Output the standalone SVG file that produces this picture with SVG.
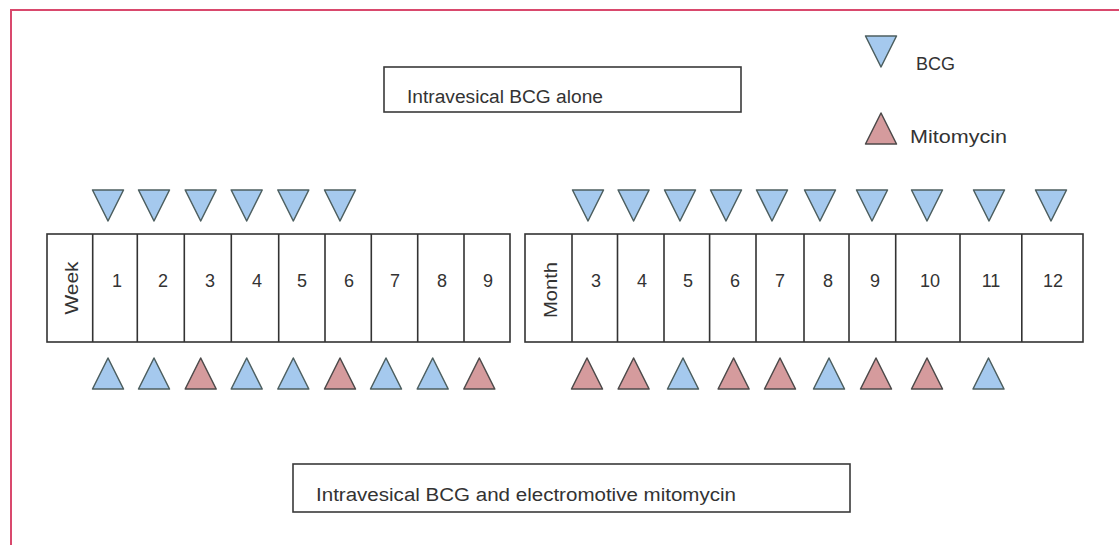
<svg xmlns="http://www.w3.org/2000/svg" xmlns:xlink="http://www.w3.org/1999/xlink" width="1119" height="545" viewBox="0 0 1119 545">
<style>
text{font-family:"Liberation Sans",Arial,sans-serif;fill:#333;font-size:18px}
.num{text-anchor:middle}
.box{fill:#fff;stroke:#3a3a3a;stroke-width:1.6}
.cell{fill:#fff;stroke:#333;stroke-width:1.6}
.bcg{fill:#a5c9ee;stroke:#4d5f60;stroke-width:1.5;stroke-linejoin:round}
.mito{fill:#d59b9d;stroke:#4d4a4a;stroke-width:1.5;stroke-linejoin:round}
.frame{fill:none;stroke:#d9496d;stroke-width:2}
</style>
<defs>
<path id="down" d="M-15.5,0 L15.5,0 L0,31 Z"/>
<path id="up" d="M0,0 L15.5,31 L-15.5,31 Z"/>
</defs>
<rect width="1119" height="545" fill="#fff"/>
<path class="frame" d="M11,545 V10 H1119"/>

<g id="box-bcg-alone">
<rect class="box" x="384" y="67" width="357" height="45"/>
<text x="407" y="103" textLength="196" lengthAdjust="spacingAndGlyphs">Intravesical BCG alone</text>
</g>
<g id="box-bcg-mito">
<rect class="box" x="293" y="464" width="557" height="48"/>
<text x="316" y="501" textLength="420" lengthAdjust="spacingAndGlyphs">Intravesical BCG and electromotive mitomycin</text>
</g>

<g id="legend">
<use href="#down" class="bcg" x="881" y="36"/>
<text x="916" y="70" textLength="39" lengthAdjust="spacingAndGlyphs">BCG</text>
<use href="#up" class="mito" x="881" y="113"/>
<text x="910" y="143" textLength="97" lengthAdjust="spacingAndGlyphs">Mitomycin</text>
</g>

<g id="week-table">
<rect class="cell" x="47" y="234" width="463" height="108"/>
<path class="cell" d="M92.7,234V342 M137.3,234V342 M184.3,234V342 M231.3,234V342 M278.7,234V342 M325,234V342 M371.3,234V342 M417.7,234V342 M464,234V342"/>
<text transform="translate(78,288) rotate(-90)" text-anchor="middle" textLength="53" lengthAdjust="spacingAndGlyphs">Week</text>
<text class="num" x="117" y="287">1</text>
<text class="num" x="163" y="287">2</text>
<text class="num" x="210" y="287">3</text>
<text class="num" x="257" y="287">4</text>
<text class="num" x="302" y="287">5</text>
<text class="num" x="349" y="287">6</text>
<text class="num" x="395" y="287">7</text>
<text class="num" x="442" y="287">8</text>
<text class="num" x="488" y="287">9</text>
</g>

<g id="month-table">
<rect class="cell" x="525" y="234" width="558" height="108"/>
<path class="cell" d="M572,234V342 M617.5,234V342 M664,234V342 M709.6,234V342 M756,234V342 M804,234V342 M849,234V342 M895.7,234V342 M960,234V342 M1021.8,234V342"/>
<text transform="translate(557,290) rotate(-90)" text-anchor="middle" textLength="56" lengthAdjust="spacingAndGlyphs">Month</text>
<text class="num" x="596" y="287">3</text>
<text class="num" x="642" y="287">4</text>
<text class="num" x="688" y="287">5</text>
<text class="num" x="735" y="287">6</text>
<text class="num" x="780" y="287">7</text>
<text class="num" x="828" y="287">8</text>
<text class="num" x="875" y="287">9</text>
<text class="num" x="930" y="287">10</text>
<text class="num" x="991" y="287">11</text>
<text class="num" x="1053" y="287">12</text>
</g>

<g id="bcg-alone-doses">
<use href="#down" class="bcg" x="108" y="190"/>
<use href="#down" class="bcg" x="154" y="190"/>
<use href="#down" class="bcg" x="200.7" y="190"/>
<use href="#down" class="bcg" x="246.7" y="190"/>
<use href="#down" class="bcg" x="293.3" y="190"/>
<use href="#down" class="bcg" x="340" y="190"/>
<use href="#down" class="bcg" x="588" y="190"/>
<use href="#down" class="bcg" x="633.6" y="190"/>
<use href="#down" class="bcg" x="680" y="190"/>
<use href="#down" class="bcg" x="726" y="190"/>
<use href="#down" class="bcg" x="772" y="190"/>
<use href="#down" class="bcg" x="820" y="190"/>
<use href="#down" class="bcg" x="872" y="190"/>
<use href="#down" class="bcg" x="927" y="190"/>
<use href="#down" class="bcg" x="989" y="190"/>
<use href="#down" class="bcg" x="1051" y="190"/>
</g>

<g id="bcg-mito-doses">
<use href="#up" class="bcg" x="108" y="358"/>
<use href="#up" class="bcg" x="154" y="358"/>
<use href="#up" class="mito" x="200.7" y="358"/>
<use href="#up" class="bcg" x="246.7" y="358"/>
<use href="#up" class="bcg" x="293.3" y="358"/>
<use href="#up" class="mito" x="340" y="358"/>
<use href="#up" class="bcg" x="386" y="358"/>
<use href="#up" class="bcg" x="432.7" y="358"/>
<use href="#up" class="mito" x="479.3" y="358"/>
<use href="#up" class="mito" x="587" y="358"/>
<use href="#up" class="mito" x="633.6" y="358"/>
<use href="#up" class="bcg" x="683" y="358"/>
<use href="#up" class="mito" x="733.6" y="358"/>
<use href="#up" class="mito" x="780" y="358"/>
<use href="#up" class="bcg" x="829" y="358"/>
<use href="#up" class="mito" x="876" y="358"/>
<use href="#up" class="mito" x="927" y="358"/>
<use href="#up" class="bcg" x="988.5" y="358"/>
</g>
</svg>
